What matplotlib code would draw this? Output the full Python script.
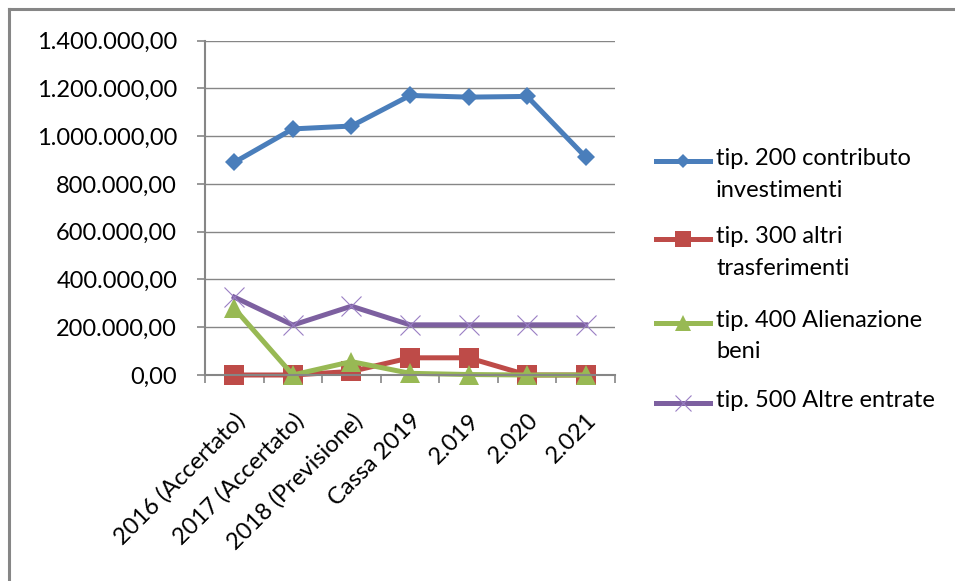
import matplotlib
matplotlib.use("Agg")
import matplotlib.pyplot as plt
from matplotlib.lines import Line2D
from matplotlib.ticker import FuncFormatter, FixedLocator
from matplotlib.transforms import ScaledTranslation

plt.rcParams['font.family'] = ['Lato', 'DejaVu Sans']

categories = ["2016 (Accertato)", "2017 (Accertato)", "2018 (Previsione)",
              "Cassa 2019", "2.019", "2.020", "2.021"]

tip200 = [890000, 1030000, 1042000, 1170000, 1163000, 1166000, 912000]
tip300 = [0, 0, 15000, 72000, 72000, 0, 0]
tip400 = [279000, 0, 56000, 7000, 2000, 0, 0]
tip500 = [326000, 209000, 288000, 210000, 210000, 210000, 210000]

labels = ["tip. 200 contributo\ninvestimenti",
          "tip. 300 altri\ntrasferimenti",
          "tip. 400 Alienazione\nbeni",
          "tip. 500 Altre entrate"]

GRAY = "#868686"
W, H = 955, 581

fig = plt.figure(figsize=(W / 100, H / 100), dpi=100)
ax = fig.add_axes([205 / W, 1 - 375 / H, 410 / W, (375 - 40.5) / H])

x = list(range(len(categories)))
styles = [
    dict(color="#4A7EBB", marker="D", ms=9.5, mew=0),
    dict(color="#BE4B48", marker="s", ms=14, mew=0),
    dict(color="#98B954", marker="^", ms=14, mew=0),
    dict(color="#7D60A0", marker="x", ms=14, mew=0.8, mec="#9A7FC4"),
]
series = [tip200, tip300, tip400, tip500]
for vals, st in zip(series, styles):
    ax.plot(x, vals, lw=3.6, solid_joinstyle="round", clip_on=False, **st)

ax.set_xlim(-0.5, len(categories) - 0.5)
ax.set_ylim(0, 1400000)
ax.set_yticks(range(0, 1400001, 200000))


def it_fmt(v, pos):
    s = f"{v:,.2f}"
    return s.replace(",", "X").replace(".", ",").replace("X", ".")


ax.yaxis.set_major_formatter(FuncFormatter(it_fmt))
ax.yaxis.grid(True, color=GRAY, lw=1.0)
ax.set_axisbelow(True)

# category boundaries get the tick marks, category centres get the labels
ax.xaxis.set_major_locator(FixedLocator([i - 0.5 for i in range(len(categories) + 1)]))
ax.xaxis.set_major_formatter(FuncFormatter(lambda v, p: ""))
ax.xaxis.set_minor_locator(FixedLocator(x))
ax.set_xticklabels(categories, minor=True, rotation=45, ha="right",
                   va="top", rotation_mode="anchor", fontsize=17)
shift = ScaledTranslation(1 / 100, 0, fig.dpi_scale_trans)
for lab in ax.get_xticklabels(minor=True):
    lab.set_transform(lab.get_transform() + shift)
ax.tick_params(axis="x", which="major", direction="out", length=6,
               width=1.2, color=GRAY)
ax.tick_params(axis="x", which="minor", length=0, pad=25)
ax.tick_params(axis="y", direction="out", length=6, width=1.2, color=GRAY,
               pad=14, labelsize=17)

for side in ["top", "right"]:
    ax.spines[side].set_visible(False)
for side in ["left", "bottom"]:
    ax.spines[side].set_color(GRAY)
    ax.spines[side].set_linewidth(1.5)

# legend, handle aligned with the first line of each label
leg_y = [161.5, 239, 322.5, 403]
for y, st, lab in zip(leg_y, styles, labels):
    fy = 1 - y / H
    fig.add_artist(Line2D([656 / W, 710 / W], [fy, fy], transform=fig.transFigure,
                          lw=3.6, color=st["color"]))
    fig.add_artist(Line2D([683 / W], [fy], transform=fig.transFigure, lw=0,
                          marker=st["marker"], ms=st["ms"] * 0.8, mew=st["mew"],
                          color=st["color"], mec=st.get("mec", st["color"])))
    fig.text(716 / W, fy + 13 / H, lab, fontsize=17, va="top", ha="left",
             linespacing=1.62)

# chart frame
fig.add_artist(Line2D([9 / W, 1], [1 - 9 / H, 1 - 9 / H], transform=fig.transFigure,
                      lw=2.2, color=GRAY))
fig.add_artist(Line2D([9 / W, 9 / W], [0, 1 - 9 / H], transform=fig.transFigure,
                      lw=2.2, color=GRAY))

fig.savefig("out.png", dpi=100)
